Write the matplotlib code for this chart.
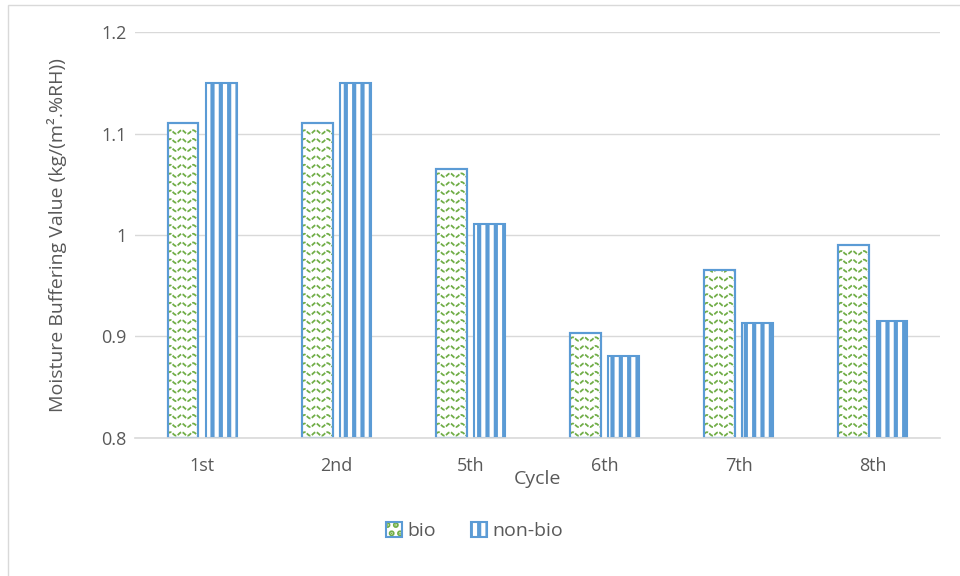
import numpy as np
import matplotlib
matplotlib.use("Agg")
import matplotlib.pyplot as plt
from matplotlib.patches import Patch, Rectangle
from matplotlib.legend_handler import HandlerTuple

# values
cycles = ["1st", "2nd", "5th", "6th", "7th", "8th"]
bio = [1.110, 1.110, 1.065, 0.903, 0.966, 0.990]
non_bio = [1.150, 1.150, 1.011, 0.881, 0.913, 0.915]

BLUE = "#5B9BD5"
GREEN = "#70AD47"
TXT = "#595959"
GRID = "#D9D9D9"

plt.rcParams["font.family"] = ["Open Sans", "DejaVu Sans"]
plt.rcParams["hatch.linewidth"] = 3.0

fig = plt.figure(figsize=(9.6, 5.76), dpi=100)
ax = fig.add_axes([0.1406, 0.2396, 0.8385, 0.7048])

# light frame of the chart area
fig.patches.append(Rectangle((8 / 960, -0.1), 1.2, 1.1 - 5 / 576,
                             transform=fig.transFigure, fill=False,
                             edgecolor=GRID, linewidth=1))

x = np.arange(len(cycles))
w = 0.23
gap = 0.055

bio_bars = ax.bar(x - (w + gap) / 2, [v - 0.8 for v in bio], w, bottom=0.8,
                  facecolor="white", edgecolor=BLUE, linewidth=1.5, zorder=3)
nb_bars = ax.bar(x + (w + gap) / 2, [v - 0.8 for v in non_bio], w, bottom=0.8,
                 facecolor="white", edgecolor=BLUE, hatch="||",
                 linewidth=1.5, zorder=3)

# wavy green fill of the bio bars, clipped to each bar
for b in bio_bars:
    x0 = b.get_x()
    x1 = x0 + b.get_width()
    xs = np.linspace(x0, x1, 80)
    for yb in np.arange(0.8 + 0.004, b.get_y() + b.get_height(), 0.0085):
        ys = yb + 0.0017 * np.sin((xs - x0) / 0.085 * 2 * np.pi)
        ln, = ax.plot(xs, ys, color=GREEN, lw=1.3, ls=(0, (2.5, 0.8)),
                      zorder=3.2)
        ln.set_clip_path(b)
    # redraw the outline on top of the waves
    ax.add_patch(Rectangle((x0, b.get_y()), b.get_width(), b.get_height(),
                           fill=False, edgecolor=BLUE, linewidth=1.5,
                           zorder=3.4))

ax.set_ylim(0.8, 1.2)
ax.set_xlim(-0.5, len(cycles) - 0.5)
ax.set_yticks([0.8, 0.9, 1.0, 1.1, 1.2])
ax.set_yticklabels(["0.8", "0.9", "1", "1.1", "1.2"])
ax.set_xticks(x)
ax.set_xticklabels(cycles)
ax.tick_params(length=0, labelsize=13, labelcolor=TXT)
ax.tick_params(axis="x", pad=14)
ax.tick_params(axis="y", pad=6)
ax.yaxis.grid(True, color=GRID, linewidth=1)
ax.set_axisbelow(True)
for s in ["top", "right", "left"]:
    ax.spines[s].set_visible(False)
ax.spines["bottom"].set_color(GRID)
ax.spines["bottom"].set_linewidth(1.2)
ax.spines["bottom"].set_zorder(4)

ax.set_ylabel("Moisture Buffering Value (kg/(m².%RH))", fontsize=14,
              color=TXT)
ax.yaxis.set_label_coords((67 - 135) / 805, 0.5)
fig.text(537 / 960, 1 - 479 / 576, "Cycle", fontsize=14, color=TXT,
         ha="center", va="center")

bio_h = (Patch(facecolor="white", edgecolor=GREEN, hatch="..", linewidth=0),
         Patch(facecolor="none", edgecolor=BLUE, linewidth=1.5))
nb_h = Patch(facecolor="white", edgecolor=BLUE, hatch="||", linewidth=1.5)
fig.legend([bio_h, nb_h], ["bio", "non-bio"],
           handler_map={tuple: HandlerTuple(ndivide=1, pad=0)},
           loc="center", bbox_to_anchor=(475 / 960, 1 - 531 / 576), ncol=2,
           frameon=False, fontsize=14, labelcolor=TXT, handlelength=0.8,
           handleheight=0.8, handletextpad=0.3, columnspacing=1.8)

fig.savefig("out.png", dpi=100)
